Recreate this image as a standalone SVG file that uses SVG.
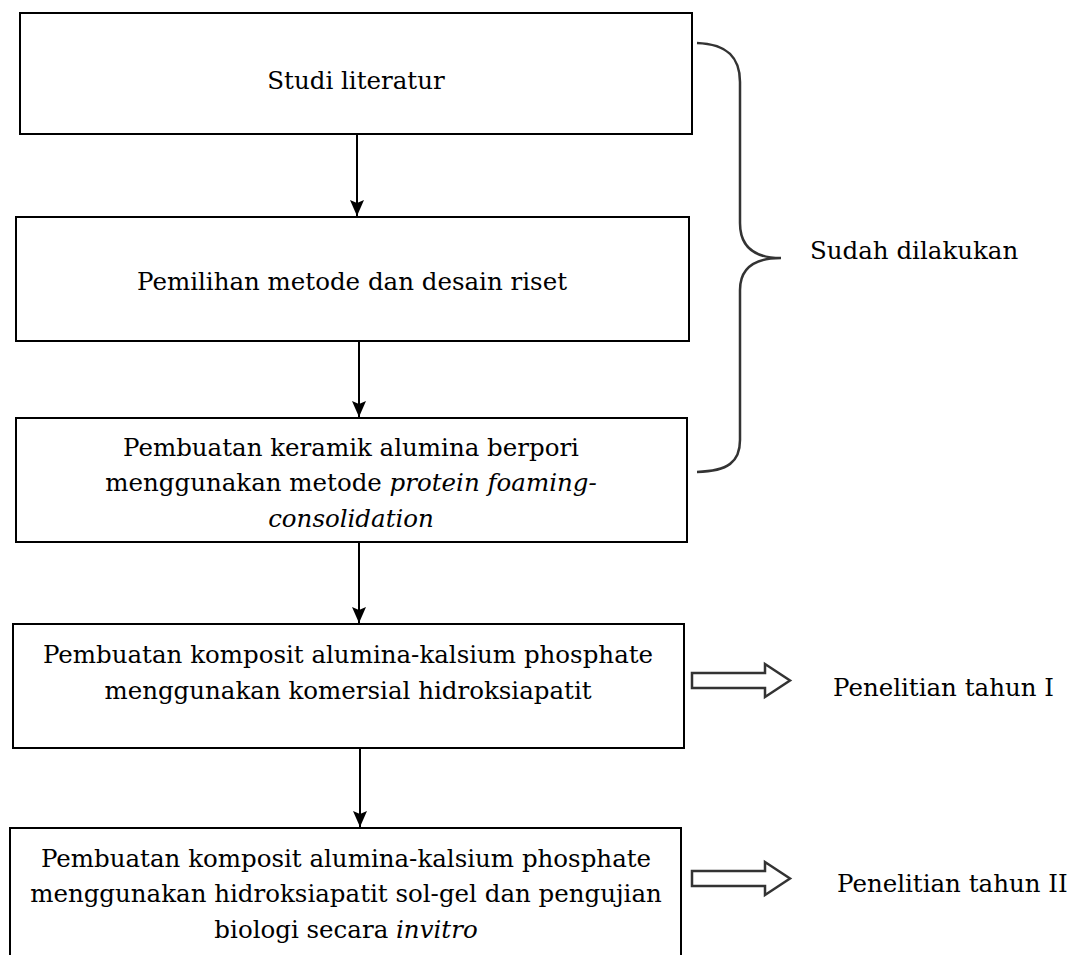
<svg xmlns="http://www.w3.org/2000/svg" width="1078" height="955" viewBox="0 0 1078 955">
<defs>
<style>
.box{fill:#fff;stroke:#000;stroke-width:2}
.t{font-family:"DejaVu Serif","Liberation Serif",serif;font-size:24.5px;fill:#000;text-anchor:middle}
.tl{font-family:"DejaVu Serif","Liberation Serif",serif;font-size:24.5px;fill:#000}
.conn{stroke:#000;stroke-width:2;fill:none}
.brace{stroke:#333;stroke-width:2.5;fill:none}
.hollow{fill:#fff;stroke:#333;stroke-width:2.5;stroke-linejoin:miter}
</style>
<marker id="ah" viewBox="0 0 16 14" refX="16" refY="7" markerWidth="16" markerHeight="14" markerUnits="userSpaceOnUse" orient="auto">
<path d="M0,0 L16,7 L0,14 L3,7 Z" fill="#000"/>
</marker>
</defs>
<rect width="1078" height="955" fill="#fff"/>
<g id="connectors">
<line class="conn" x1="357" y1="134" x2="357" y2="216" marker-end="url(#ah)"/>
<line class="conn" x1="359" y1="341" x2="359" y2="417" marker-end="url(#ah)"/>
<line class="conn" x1="359" y1="542" x2="359" y2="623" marker-end="url(#ah)"/>
<line class="conn" x1="360" y1="748" x2="360" y2="827" marker-end="url(#ah)"/>
<path class="brace" d="M697,43 C728,44 740,58 740,82 L740,223 C740,245 752,258 781,258 C752,258 740,270 740,290 L740,440 C740,462 728,471 697,472"/>
<polygon class="hollow" points="692,673 765,673 765,664 790,680.5 765,697 765,688 692,688"/>
<polygon class="hollow" points="692,871 765,871 765,862 790,878.5 765,895 765,886 692,886"/>
</g>
<g id="node-studi">
<rect class="box" x="20" y="13" width="672" height="121"/>
<text class="t" x="356" y="89">Studi literatur</text>
</g>
<g id="node-pemilihan">
<rect class="box" x="16" y="217" width="673" height="124"/>
<text class="t" x="352" y="290">Pemilihan metode dan desain riset</text>
</g>
<g id="node-keramik">
<rect class="box" x="16" y="418" width="671" height="124"/>
<text class="t" x="351" y="456">Pembuatan keramik alumina berpori</text>
<text class="t" x="351" y="491">menggunakan metode <tspan font-style="italic">protein foaming-</tspan></text>
<text class="t" x="351" y="527" font-style="italic">consolidation</text>
</g>
<g id="node-komposit1">
<rect class="box" x="13" y="624" width="671" height="124"/>
<text class="t" x="348" y="663">Pembuatan komposit alumina-kalsium phosphate</text>
<text class="t" x="348" y="699">menggunakan komersial hidroksiapatit</text>
</g>
<g id="node-komposit2">
<rect class="box" x="10" y="828" width="671" height="140"/>
<text class="t" x="346" y="867">Pembuatan komposit alumina-kalsium phosphate</text>
<text class="t" x="346" y="902">menggunakan hidroksiapatit sol-gel dan pengujian</text>
<text class="t" x="346" y="938">biologi secara <tspan font-style="italic">invitro</tspan></text>
</g>
<g id="label-sudah">
<text class="tl" x="810" y="259">Sudah dilakukan</text>
</g>
<g id="label-tahun1">
<text class="tl" x="833" y="696">Penelitian tahun I</text>
</g>
<g id="label-tahun2">
<text class="tl" x="837" y="892">Penelitian tahun II</text>
</g>
</svg>
